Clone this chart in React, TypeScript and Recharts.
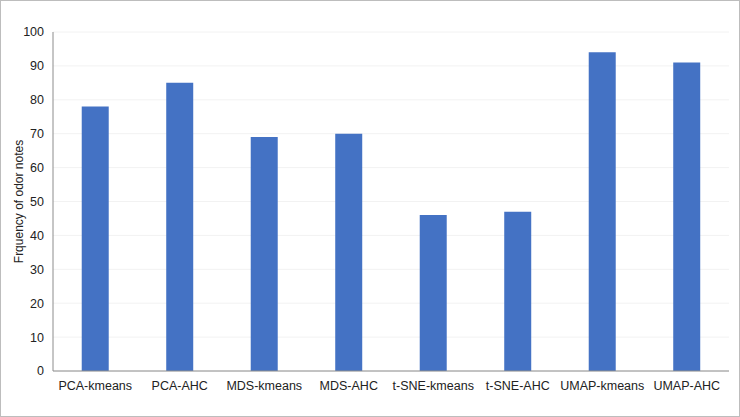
import { Bar, BarChart, CartesianGrid, XAxis, YAxis } from 'recharts';

const methods = [
  'PCA-kmeans',
  'PCA-AHC',
  'MDS-kmeans',
  'MDS-AHC',
  't-SNE-kmeans',
  't-SNE-AHC',
  'UMAP-kmeans',
  'UMAP-AHC',
];
const frequencies = [78, 85, 69, 70, 46, 47, 94, 91];
const yTicks = [0, 10, 20, 30, 40, 50, 60, 70, 80, 90, 100];

const data = methods.map((name, i) => ({ name, value: frequencies[i] }));

const font = 'Liberation Sans, Arial, sans-serif';

export default function App() {
  return (
    <div
      style={{
        position: 'absolute',
        left: 0,
        top: 0,
        width: 740,
        height: 417,
        boxSizing: 'border-box',
        border: '1.5px solid #bdbdbd',
        background: '#fff',
      }}
    >
      <BarChart
        width={737}
        height={414}
        data={data}
        margin={{ top: 31, right: 9, bottom: 14, left: 0 }}
        barCategoryGap="34%"
      >
        <CartesianGrid vertical={false} stroke="#f2f2f2" />
        <XAxis
          dataKey="name"
          tickLine={false}
          axisLine={{ stroke: '#8c8c8c' }}
          tick={{ fontSize: 12.5, fill: '#222', fontFamily: font }}
          tickMargin={4}
          interval={0}
        />
        <YAxis
          width={52}
          domain={[0, 100]}
          ticks={yTicks}
          tickLine={false}
          axisLine={{ stroke: '#8c8c8c' }}
          tick={{ fontSize: 12.5, fill: '#222', fontFamily: font }}
          tickMargin={3}
          label={{
            value: 'Frquency of odor notes',
            angle: -90,
            position: 'insideLeft',
            offset: 18,
            style: { textAnchor: 'middle', fontSize: 12, fill: '#222', fontFamily: font },
          }}
        />
        <Bar dataKey="value" fill="#4472C4" isAnimationActive={false} />
      </BarChart>
    </div>
  );
}
